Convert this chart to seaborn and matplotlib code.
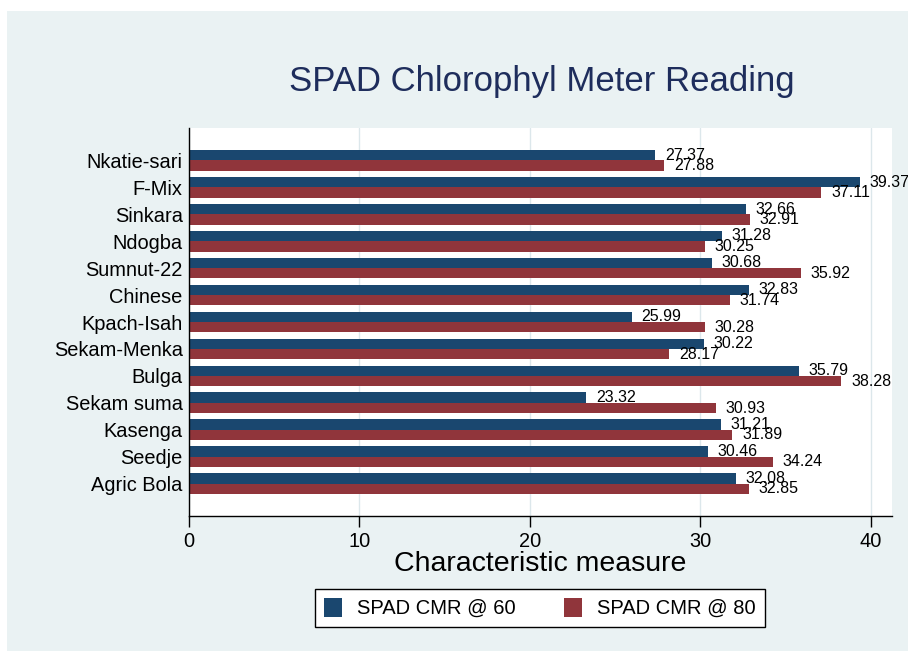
import matplotlib
matplotlib.use('Agg')
import matplotlib.pyplot as plt
import pandas as pd
import seaborn as sns
from matplotlib.patches import Patch, Rectangle

# Data
varieties = ['Nkatie-sari', 'F-Mix', 'Sinkara', 'Ndogba', 'Sumnut-22', 'Chinese',
             'Kpach-Isah', 'Sekam-Menka', 'Bulga', 'Sekam suma', 'Kasenga',
             'Seedje', 'Agric Bola']
cmr_60 = [27.37, 39.37, 32.66, 31.28, 30.68, 32.83, 25.99, 30.22, 35.79, 23.32,
          31.21, 30.46, 32.08]
cmr_80 = [27.88, 37.11, 32.91, 30.25, 35.92, 31.74, 30.28, 28.17, 38.28, 30.93,
          31.89, 34.24, 32.85]
series_names = ['SPAD CMR @ 60', 'SPAD CMR @ 80']
x_ticks = [0, 10, 20, 30, 40]

navy = '#1A476F'
maroon = '#90353B'
bg = '#EAF2F3'

# long form for seaborn
df = pd.DataFrame({
    'variety': varieties * 2,
    'value': cmr_60 + cmr_80,
    'series': [series_names[0]] * len(varieties) + [series_names[1]] * len(varieties),
})

sns.set_style('white')
plt.rcParams['font.family'] = ['Liberation Sans', 'DejaVu Sans']
plt.rcParams['text.color'] = 'black'
plt.rcParams['xtick.color'] = 'black'
plt.rcParams['ytick.color'] = 'black'

fig = plt.figure(figsize=(9.08, 6.51), dpi=100, facecolor='white')
# light background panel behind the whole graph
fig.patches.append(Rectangle((7 / 908, 0), 1 - 7 / 908, (651 - 11) / 651,
                             transform=fig.transFigure, facecolor=bg,
                             edgecolor='none', zorder=-10))

ax = fig.add_axes([189 / 908, 135 / 651, (892 - 189) / 908, 388 / 651])
ax.set_facecolor('white')

sns.barplot(data=df, x='value', y='variety', hue='series', order=varieties,
            hue_order=series_names, palette=[navy, maroon], saturation=1,
            width=0.77, orient='h', linewidth=0, legend=False, ax=ax)

for cont in ax.containers:
    ax.bar_label(cont, fmt='%.2f', padding=7, fontsize=11.5, color='black')

ax.set_xlim(0, 41.25)
ax.set_ylim(len(varieties) - 1 + 1.2, -1.2)
ax.set_xticks(x_ticks)
ax.xaxis.grid(True, color='#DCE7EB', linewidth=1)
ax.set_axisbelow(True)
ax.set_xlabel('')
ax.set_ylabel('')

ax.tick_params(axis='x', direction='out', length=8, width=1, colors='black',
               pad=3.5, labelsize=14.4, bottom=True)
ax.tick_params(axis='y', length=0, pad=4.5, labelsize=14.4, colors='black')

for side in ['top', 'right']:
    ax.spines[side].set_visible(False)
for side in ['left', 'bottom']:
    ax.spines[side].set_color('black')
    ax.spines[side].set_linewidth(1)

fig.text(542 / 908, 1 - 82 / 651, 'SPAD Chlorophyl Meter Reading', ha='center',
         va='center', fontsize=25, color='#1E2D5C')
fig.text(540.5 / 908, 1 - 564 / 651, 'Characteristic measure', ha='center',
         va='center', fontsize=20.5, color='black')

handles = [Patch(facecolor=navy, edgecolor='none'), Patch(facecolor=maroon, edgecolor='none')]
leg = fig.legend(handles, series_names, loc='center', ncol=2,
                 bbox_to_anchor=(540 / 908, 1 - 608 / 651), fontsize=14.5,
                 frameon=True, fancybox=False, edgecolor='black', framealpha=1,
                 handlelength=0.9, handleheight=1.05, handletextpad=0.75,
                 columnspacing=2.4, borderpad=0.45)
leg.get_frame().set_linewidth(1)

fig.savefig('out.png', dpi=100, facecolor='white')
